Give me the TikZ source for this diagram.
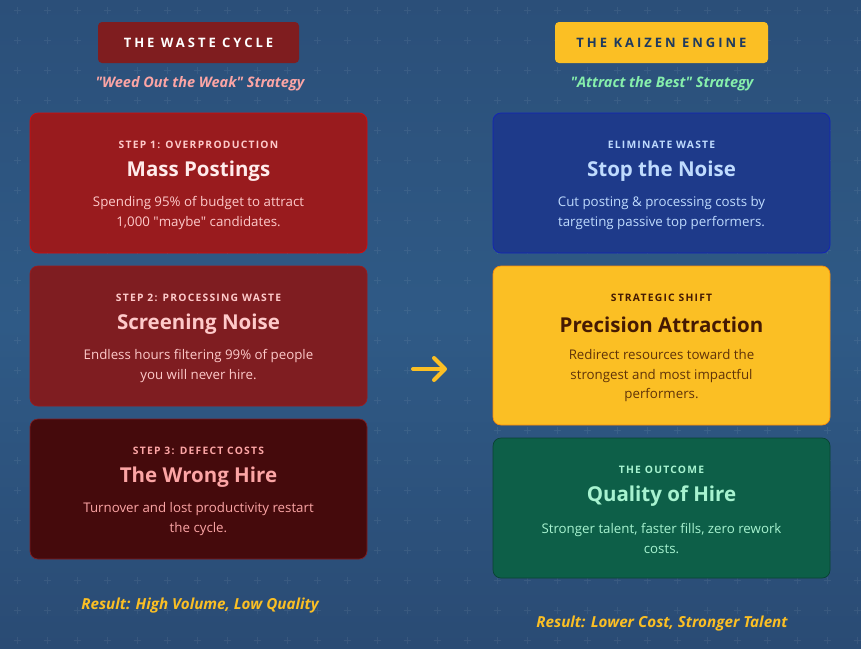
\documentclass[tikz,border=0pt]{standalone}
\usepackage{fontspec}
\setmainfont{Open Sans}
\usetikzlibrary{arrows.meta,positioning}
\definecolor{bgtop}{HTML}{2B4F79}
\definecolor{bgmid}{HTML}{2F5A86}
\definecolor{bgbot}{HTML}{2A4B74}
\definecolor{wine}{HTML}{7F1D1F}
\definecolor{redA}{HTML}{991B1E}
\definecolor{redB}{HTML}{7F1D21}
\definecolor{redC}{HTML}{450A0C}
\definecolor{navy}{HTML}{1E3A8A}
\definecolor{gold}{HTML}{FBBF24}
\definecolor{pine}{HTML}{0D5F48}
\definecolor{pinkA}{HTML}{FECACA}
\definecolor{pinkB}{HTML}{FCA5A5}
\definecolor{skyA}{HTML}{BFDBFE}
\definecolor{mint}{HTML}{A7F3D0}
\definecolor{lime}{HTML}{86EFAC}
\definecolor{brown}{HTML}{451A03}
\definecolor{ink}{HTML}{1E3A5F}
\newcommand{\spaced}[2][12]{{\addfontfeature{LetterSpace=#1}#2}}

\begin{document}
\begin{tikzpicture}
  [x=1pt,y=-1pt,
   card/.style={draw,rounded corners=8pt,minimum width=337pt,minimum height=140pt,line width=0.7pt},
   badge/.style={rounded corners=4pt,minimum width=201pt,minimum height=41pt,font=\bfseries\fontsize{13}{15}\selectfont},
   tag/.style={font=\bfseries\fontsize{10.3}{12}\selectfont},
   title/.style={font=\bfseries\fontsize{20.5}{24}\selectfont},
   body/.style={align=center,font=\fontsize{13.3}{19.5}\selectfont},
   motto/.style={font=\bfseries\itshape\fontsize{14.5}{17}\selectfont},
   result/.style={text=gold,font=\bfseries\itshape\fontsize{15.2}{18}\selectfont}]
  % background with faint plus grid
  \shade[top color=bgtop,bottom color=bgbot,middle color=bgmid] (0,0) rectangle (861,648);
  \foreach \i in {0,...,28}
    \foreach \j in {0,...,21}
      \draw[white,opacity=0.07,line width=1pt] (17+30*\i-3.5,10+30*\j) -- ++(7,0) (17+30*\i,10+30*\j-3.5) -- ++(0,7);

  % left column
  \node[badge,fill=wine,text=white] (hl) at (198.5,42.5) {\spaced[23]{THE WASTE CYCLE}};
  \node[motto,text=pinkB] (ml) at (200,83.5) {\textquotedbl Weed Out the Weak\textquotedbl{} Strategy};
  \node[card,fill=redA,draw=red!60!redA] (l1) at (198.5,183) {};
  \node[tag,text=pinkA] (l1a) at (198.5,145) {\spaced{STEP 1: OVERPRODUCTION}};
  \node[title,text=red!8] (l1b) at (198.5,171.5) {Mass Postings};
  \node[body,text=pinkA] (l1c) at (198.5,213) {Spending 95\% of budget to attract\\1,000 \textquotedbl maybe\textquotedbl{} candidates.};
  \node[card,fill=redB,draw=redA] (l2) at (198.5,336) {};
  \node[tag,text=pinkA] (l2a) at (198.5,298) {\spaced{STEP 2: PROCESSING WASTE}};
  \node[title,text=pinkA] (l2b) at (198.5,324.5) {Screening Noise};
  \node[body,text=pinkA] (l2c) at (198.5,366) {Endless hours filtering 99\% of people\\you will never hire.};
  \node[card,fill=redC,draw=redB] (l3) at (198.5,489) {};
  \node[tag,text=pinkB] (l3a) at (198.5,451) {\spaced{STEP 3: DEFECT COSTS}};
  \node[title,text=pinkB] (l3b) at (198.5,477.5) {The Wrong Hire};
  \node[body,text=pinkB] (l3c) at (198.5,519) {Turnover and lost productivity restart\\the cycle.};
  \node[result] (rl) at (200,605.5) {Result: High Volume, Low Quality};

  % right column
  \node[badge,fill=gold,text=ink,minimum width=213pt] (hr) at (661.5,42.5) {\spaced[23]{THE KAIZEN ENGINE}};
  \node[motto,text=lime] (mr) at (662,83.5) {\textquotedbl Attract the Best\textquotedbl{} Strategy};
  \node[card,fill=navy,draw=blue!40!navy] (r1) at (661.5,183) {};
  \node[tag,text=skyA] (r1a) at (661.5,145) {\spaced{ELIMINATE WASTE}};
  \node[title,text=skyA] (r1b) at (661.5,171.5) {Stop the Noise};
  \node[body,text=skyA] (r1c) at (661.5,213) {Cut posting \& processing costs by\\targeting passive top performers.};
  \node[card,fill=gold,draw=orange!80!gold,minimum height=159pt] (r2) at (661.5,345.5) {};
  \node[tag,text=brown] (r2a) at (661.5,298) {\spaced{STRATEGIC SHIFT}};
  \node[title,text=brown] (r2b) at (661.5,324.5) {Precision Attraction};
  \node[body,text=brown!85!gold] (r2c) at (661.5,376) {Redirect resources toward the\\strongest and most impactful\\performers.};
  \node[card,fill=pine,draw=pine!70!black] (r3) at (661.5,508) {};
  \node[tag,text=mint] (r3a) at (661.5,470) {\spaced{THE OUTCOME}};
  \node[title,text=mint] (r3b) at (661.5,496.5) {Quality of Hire};
  \node[body,text=mint] (r3c) at (661.5,538.5) {Stronger talent, faster fills, zero rework\\costs.};
  \node[result] (rr) at (662,623.5) {Result: Lower Cost, Stronger Talent};

  % shift arrow
  \coordinate (a1) at (413,369);
  \coordinate (a2) at (447,369);
  \draw[gold,line width=4pt,line cap=round,-{Straight Barb[length=11pt,width=22pt,round]}] (a1) -- (a2);
\end{tikzpicture}
\end{document}
